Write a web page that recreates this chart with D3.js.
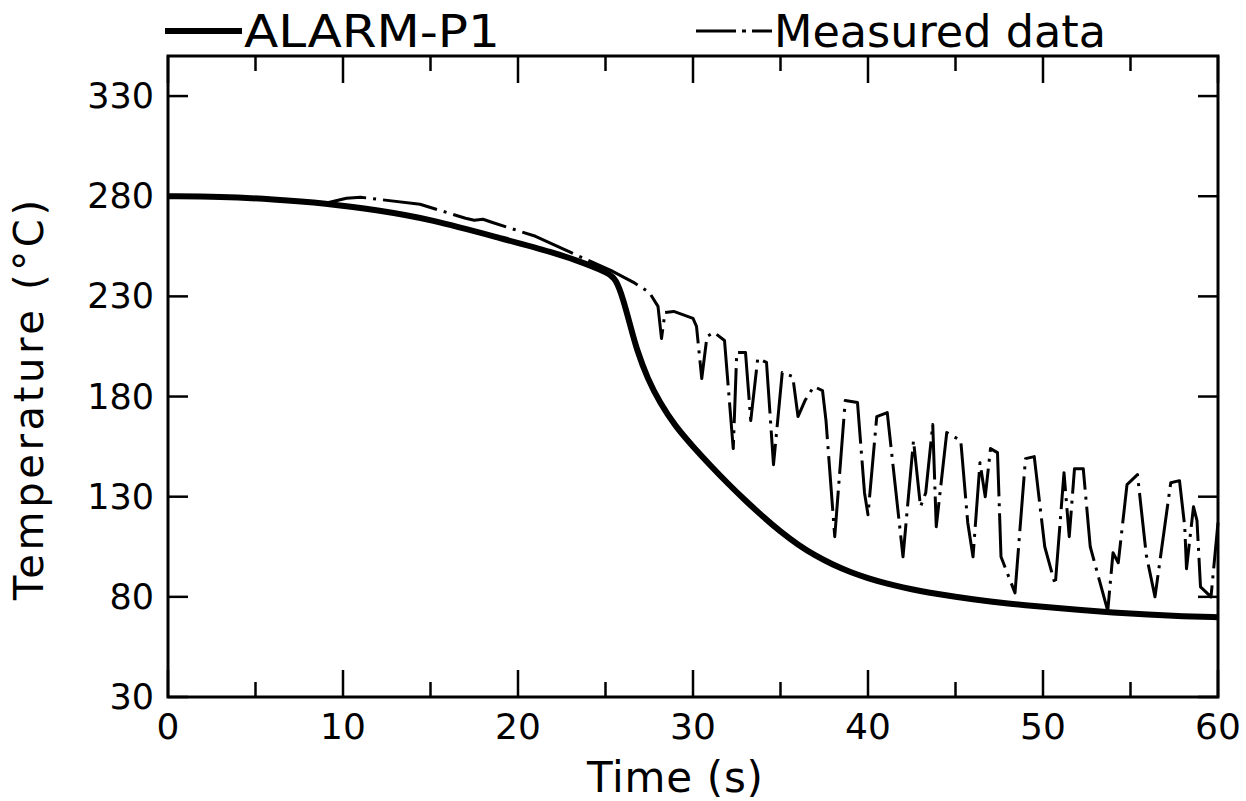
<!DOCTYPE html>
<html>
    <head>
        <title>Temperature vs Time</title>
        <script src="https://d3js.org/d3.v7.min.js"></script>
        <style>
            body
            {
                margin: 0;
                background: white;
            }
            svg
            {
                display: block;
            }
            text
            {
                font-family: "DejaVu Sans", "Liberation Sans", sans-serif;
                fill: black;
            }
            .frame
            {
                fill: none;
                stroke: black;
                stroke-width: 3;
            }
            .tick
            {
                stroke: black;
                stroke-width: 2.5;
            }
            .alarm
            {
                fill: none;
                stroke: black;
                stroke-width: 6;
                stroke-linejoin: round;
            }
            .measured
            {
                fill: none;
                stroke: black;
                stroke-width: 3;
                stroke-dasharray: 55,7,3,7;
                stroke-linejoin: round;
            }
        </style>
    </head>
    <body>
        <script>
        // ALARM-P1 prediction
        var alarmTime = [0, 3, 6, 9, 12, 15, 19, 22, 24, 25.2, 25.6, 26, 26.4, 26.8, 27.4, 28.1, 29, 30, 31, 32, 33, 34, 35, 36, 37, 38, 39, 40,
                         41, 42, 43, 44, 45, 46, 47, 48, 49, 50, 52, 54, 56, 58, 60];
        var alarmTemp = [280, 279.8, 278.5, 276.5, 273, 268.5, 259, 252, 246, 241.5, 238.5, 229, 216, 203, 189, 177, 165, 155, 145.5, 136.5, 128, 120, 112.5, 106, 100.5, 96, 92.3, 89.3,
                         86.8, 84.7, 82.9, 81.4, 80, 78.8, 77.7, 76.7, 75.8, 75, 73.5, 72.2, 71.1, 70.3, 69.8];

        // measured data
        var measTime = [0, 3, 6, 9, 10.2, 11, 14.4, 17, 17.5, 18, 18.5, 21, 24, 25.3, 26.6, 27.5, 28, 28.2, 28.4, 28.9, 30, 30.2, 30.5, 30.8, 31.2, 31.8,
                        32.3, 32.5, 33, 33.3, 33.7, 34.2, 34.6, 35.1, 35.7, 36, 36.4, 36.9, 37.4, 37.6, 38.1, 38.7, 39.4, 39.8, 40, 40.5, 41.1,
                        42, 42.6, 43, 43.3, 43.7, 43.9, 44.5, 45.3, 45.7, 46, 46.4, 46.7, 47, 47.4, 47.6, 48.4, 49, 49.5, 50.1, 50.7, 51.2, 51.5,
                        51.8, 52.3, 52.7, 53.7, 54, 54.3, 54.8, 55.4, 55.9, 56.4, 57.3, 57.8, 58.1, 58.2, 58.6, 58.8, 59, 59.6, 60];
        var measTemp = [280, 279.8, 278.5, 276.5, 279, 279.5, 276, 269, 268, 268.5, 267, 260, 248, 243, 237, 232, 225, 209, 222, 222.5, 219, 215, 189, 210, 212, 208,
                        154, 202, 202, 168, 199, 197, 146, 192, 190, 170, 178, 185, 183, 168, 110, 178, 177, 132, 121, 170, 172,
                        100, 158, 125, 132, 166, 115, 162, 158, 117, 100, 147, 130, 154, 152, 100, 82, 149, 150, 105, 86, 142, 110,
                        144, 144, 105, 73, 102, 97, 136, 141, 101, 80, 137, 138, 115, 94, 125, 118, 85, 80, 117];

        var xTicks = [0, 10, 20, 30, 40, 50, 60];
        var xMinorTicks = [5, 15, 25, 35, 45, 55];
        var yTicks = [30, 80, 130, 180, 230, 280, 330];

        var plotLeft = 168, plotRight = 1218, plotTop = 56, plotBottom = 697;

        var svg = d3.select("body").append("svg")
                .attr("width", 1246).attr("height", 801);

        var x = d3.scaleLinear().domain([0, 60]).range([plotLeft, plotRight]);
        var y = d3.scaleLinear().domain([30, 350]).range([plotBottom, plotTop]);

        // frame
        svg.append("rect").attr("class", "frame")
            .attr("x", plotLeft).attr("y", plotTop)
            .attr("width", plotRight - plotLeft).attr("height", plotBottom - plotTop);

        // bottom and top ticks
        var g = svg.append("g");
        xTicks.forEach(function(t){
            g.append("line").attr("class", "tick").attr("x1", x(t)).attr("x2", x(t)).attr("y1", plotBottom).attr("y2", plotBottom - 27);
            g.append("line").attr("class", "tick").attr("x1", x(t)).attr("x2", x(t)).attr("y1", plotTop).attr("y2", plotTop + 27);
            g.append("text").attr("x", x(t)).attr("y", 739)
                .attr("text-anchor", "middle").attr("font-size", 36).text(t);
        });
        xMinorTicks.forEach(function(t){
            g.append("line").attr("class", "tick").attr("x1", x(t)).attr("x2", x(t)).attr("y1", plotBottom).attr("y2", plotBottom - 15);
            g.append("line").attr("class", "tick").attr("x1", x(t)).attr("x2", x(t)).attr("y1", plotTop).attr("y2", plotTop + 15);
        });

        // left and right ticks
        yTicks.forEach(function(v){
            g.append("line").attr("class", "tick").attr("x1", plotLeft).attr("x2", plotLeft + 20).attr("y1", y(v)).attr("y2", y(v));
            g.append("line").attr("class", "tick").attr("x1", plotRight).attr("x2", plotRight - 20).attr("y1", y(v)).attr("y2", y(v));
            g.append("text").attr("x", 154).attr("y", y(v) + 12)
                .attr("text-anchor", "end").attr("font-size", 35).text(v);
        });

        // axis titles
        svg.append("text").attr("x", 675).attr("y", 792)
            .attr("text-anchor", "middle").attr("font-size", 42)
            .attr("textLength", 176).attr("lengthAdjust", "spacing")
            .text("Time (s)");
        svg.append("text")
            .attr("transform", "translate(43,400) rotate(-90)")
            .attr("text-anchor", "middle").attr("font-size", 40)
            .attr("textLength", 400).attr("lengthAdjust", "spacing")
            .text("Temperature (°C)");

        // curves
        var alarmData = alarmTime.map(function(t, i){ return {t: t, v: alarmTemp[i]}; });
        var measData = measTime.map(function(t, i){ return {t: t, v: measTemp[i]}; });

        var smooth = d3.line().x(function(d){ return x(d.t); }).y(function(d){ return y(d.v); }).curve(d3.curveBasis);
        var jagged = d3.line().x(function(d){ return x(d.t); }).y(function(d){ return y(d.v); });

        svg.append("path").attr("class", "measured").attr("d", jagged(measData));
        svg.append("path").attr("class", "alarm").attr("d", smooth(alarmData));

        // legend
        svg.append("line").attr("class", "alarm").attr("x1", 165).attr("x2", 242).attr("y1", 31).attr("y2", 31);
        svg.append("text").attr("x", 244).attr("y", 47).attr("font-size", 44)
            .attr("textLength", 256).attr("lengthAdjust", "spacingAndGlyphs").text("ALARM-P1");
        svg.append("line").attr("class", "measured").attr("x1", 696).attr("x2", 772).attr("y1", 31).attr("y2", 31)
            .style("stroke-dasharray", "40,6,4,6,20");
        svg.append("text").attr("x", 774).attr("y", 47).attr("font-size", 44)
            .attr("textLength", 332).attr("lengthAdjust", "spacingAndGlyphs").text("Measured  data");
        </script>
    </body>
</html>
